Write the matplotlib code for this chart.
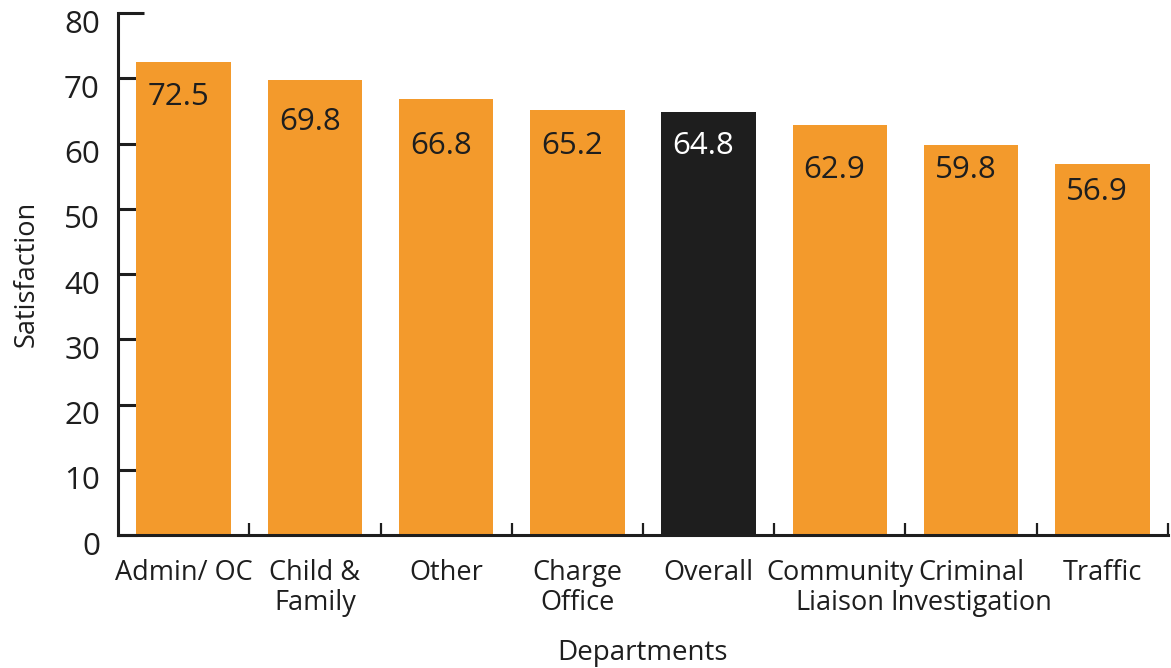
import numpy as np
import matplotlib.pyplot as plt
from matplotlib.transforms import ScaledTranslation

# satisfaction by department
departments = ["Admin/ OC", "Child &\nFamily", "Other", "Charge\nOffice",
               "Overall", "Community\nLiaison", "Criminal\nInvestigation", "Traffic"]
satisfaction = [72.5, 69.8, 66.8, 65.2, 64.8, 62.9, 59.8, 56.9]
label_y = [67.1, 63.3, 59.6, 59.6, 59.6, 56.0, 56.0, 52.5]

orange = "#F39A2C"
dark = "#1E1E1E"
colors = [dark if d == "Overall" else orange for d in departments]

plt.rcParams['font.family'] = ['Open Sans', 'DejaVu Sans']

fig = plt.figure(figsize=(11.71, 6.68), dpi=100)
ax = fig.add_axes([0.1008, 0.1991, 0.8966, 0.7814])

x = np.arange(len(departments))
ax.bar(x, satisfaction, width=0.72, color=colors, zorder=2)

for xi, v, ly, c in zip(x, satisfaction, label_y, colors):
    ax.text(xi - 0.04, ly, f"{v:.1f}", ha="center", va="center", fontsize=22.5,
            color="white" if c == dark else dark, zorder=3)

ax.set_xlim(-0.5, len(departments) - 0.5)
ax.set_ylim(0, 80)

ax.spines[["top", "right"]].set_visible(False)
for s in ["left", "bottom"]:
    ax.spines[s].set_linewidth(2.2)
    ax.spines[s].set_color(dark)

ax.set_yticks(np.arange(0, 80, 10))
ax.set_yticks([80], minor=True)
ax.yaxis.set_minor_formatter(plt.FixedFormatter(["80"]))
ax.tick_params(axis="y", which="major", direction="in", length=13.5, width=2.2,
               color=dark, labelsize=22.5, labelcolor=dark, pad=13)
ax.tick_params(axis="y", which="minor", direction="in", length=18.5, width=2.2,
               color=dark, labelsize=22.5, labelcolor=dark, pad=13)
# numbers sit a little below their ticks
shift = ScaledTranslation(0, -8 / 100, fig.dpi_scale_trans)
for lbl in ax.get_yticklabels(which="both"):
    lbl.set_transform(lbl.get_transform() + shift)

ax.set_xticks(x)
ax.set_xticklabels(departments)
ax.set_xticks(list(x + 0.5), minor=True)
ax.tick_params(axis="x", which="major", length=0, labelsize=19.5, labelcolor=dark, pad=17)
ax.tick_params(axis="x", which="minor", direction="in", length=8.5, width=1.6, color=dark)
for lbl in ax.get_xticklabels():
    lbl.set_linespacing(1.12)

ax.set_ylabel("Satisfaction", fontsize=19.5, color=dark, labelpad=17)
ax.set_xlabel("Departments", fontsize=20, color=dark, labelpad=16)

fig.savefig("out.png", dpi=100, facecolor="white")
